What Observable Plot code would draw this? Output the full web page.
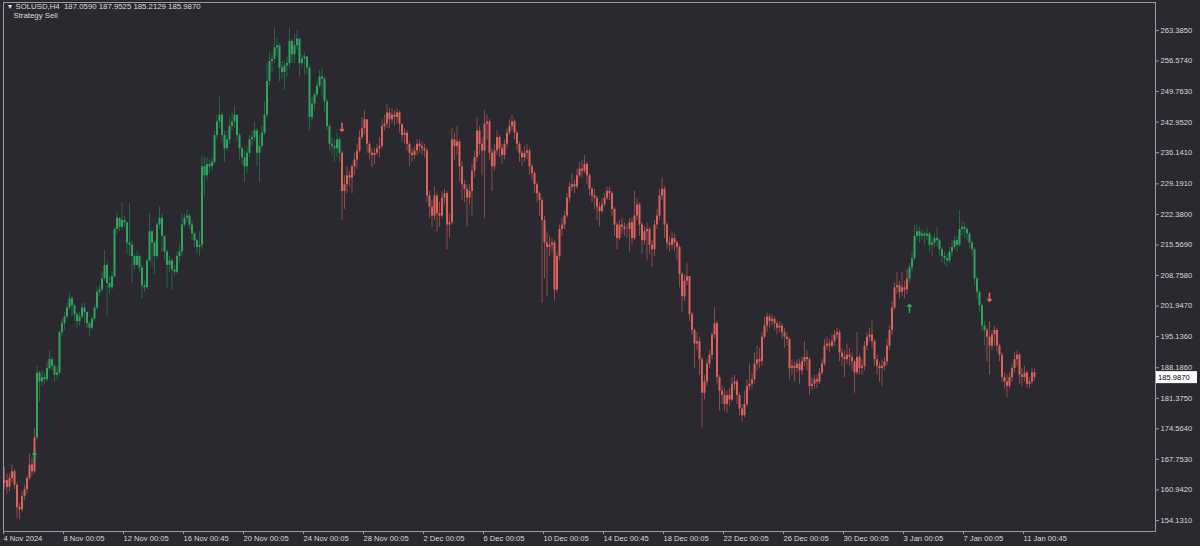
<!DOCTYPE html>
<html><head><meta charset="utf-8">
<script src="https://cdn.jsdelivr.net/npm/d3@7"></script>
<script src="https://cdn.jsdelivr.net/npm/@observablehq/plot@0.6"></script>
<style>
html,body{margin:0;padding:0;background:#29292f;}
#chart{width:1200px;height:546px;}
</style></head><body><div id="chart"></div>
<script>
// SOLUSD H4 bars, 4 Nov 2024 00:00 onward (one row = one day, 6 bars)
const firstOpen = 162.5;
const closes = [
163.0,161.5,163.5,165.0,162.0,157.0,
156.5,159.5,161.0,163.5,166.5,165.0,
172.5,187.0,185.0,186.0,185.5,188.0,
190.0,188.5,186.5,187.0,196.0,198.0,
199.5,201.5,203.5,202.0,200.0,198.5,
199.5,201.5,200.5,198.0,197.0,199.0,
201.5,205.0,205.5,208.0,211.0,207.0,
206.0,208.5,219.0,221.5,219.5,221.0,
220.5,216.0,215.5,213.0,211.0,213.0,
210.5,206.5,206.0,212.0,218.5,216.0,
213.0,220.0,221.5,217.5,214.0,211.0,
212.0,210.0,209.5,213.0,214.0,220.0,
221.5,222.0,220.0,218.0,216.5,215.0,
215.5,233.0,231.0,233.5,233.0,234.0,
240.0,243.0,244.5,240.0,237.0,239.0,
242.0,243.0,244.5,240.0,237.0,235.0,
233.0,236.0,239.0,239.5,241.0,236.0,
237.5,240.5,244.5,252.0,256.5,257.0,
259.5,260.0,255.0,254.0,255.5,256.0,
261.0,258.0,260.0,261.5,256.0,257.0,
257.5,255.0,244.0,247.0,249.0,251.0,
253.0,252.5,247.5,242.0,238.0,237.5,
237.0,239.0,236.0,227.5,229.0,231.0,
230.5,233.0,234.5,236.5,239.5,241.5,
243.5,238.0,236.0,235.5,236.0,237.0,
237.5,242.0,242.5,245.0,243.5,244.5,
244.0,245.0,242.5,240.0,240.5,238.0,
236.0,235.5,236.5,238.0,237.5,237.0,
236.5,226.5,224.0,222.0,226.5,222.5,
222.0,226.0,227.0,220.0,220.5,239.0,
237.5,238.5,233.0,229.0,228.0,226.0,
227.5,232.0,235.0,241.0,238.0,236.5,
242.5,243.0,236.0,233.0,236.5,239.5,
237.0,235.5,238.0,240.5,242.0,243.0,
240.5,238.0,236.0,235.0,236.0,236.5,
233.0,231.5,229.0,227.0,225.5,221.0,
216.0,215.0,215.5,216.0,205.5,213.0,
219.0,220.0,222.0,226.0,228.5,229.0,
228.5,231.0,232.5,232.0,233.5,231.0,
228.0,226.5,226.0,224.0,223.0,224.5,
226.0,227.5,227.0,223.5,220.0,217.0,
220.0,219.5,219.0,219.0,220.5,217.0,
222.0,224.5,220.0,216.5,218.5,219.0,
215.5,214.5,220.0,222.0,226.5,228.0,
220.0,216.0,215.5,217.0,216.0,215.0,
209.0,204.0,207.5,208.5,200.0,196.5,
193.5,194.0,190.0,182.5,185.0,189.0,
191.0,195.5,198.0,186.0,183.0,182.0,
180.0,182.0,181.0,184.5,185.0,182.0,
179.0,177.5,180.0,184.0,184.5,185.5,
189.0,190.0,189.5,195.0,197.5,199.5,
198.5,199.0,198.0,197.0,197.5,196.0,
195.0,194.5,188.0,188.5,188.0,189.0,
187.5,189.5,190.5,190.0,184.0,184.5,
185.5,185.0,187.0,189.0,193.0,193.5,
193.0,194.0,195.5,196.0,191.5,190.5,
190.0,191.0,190.5,189.5,187.0,190.5,
188.0,188.5,193.0,195.0,195.5,194.0,
190.0,188.5,188.0,188.5,189.5,193.0,
196.5,201.5,206.0,206.5,205.0,206.0,
205.5,208.0,210.5,212.5,217.5,218.5,
217.5,218.0,217.5,218.0,215.5,216.0,
217.0,216.5,214.5,213.0,212.5,212.0,
214.0,215.0,216.5,215.5,219.0,219.5,
219.0,218.0,216.0,214.5,208.0,205.0,
202.0,197.5,196.5,195.0,193.0,195.5,
196.5,193.0,191.0,186.0,185.0,184.0,
186.0,188.0,190.0,191.0,186.5,186.0,
187.0,184.5,185.0,187.059,185.987
];
const highs = [
166.0,164.5,164.5,166.5,165.5,162.5,
158.0,160.5,162.0,164.0,169.0,168.0,
174.6,188.5,187.5,187.5,187.0,189.5,
192.0,190.5,189.0,188.5,196.5,199.0,
200.5,202.5,204.7,204.0,202.5,200.5,
200.5,202.5,202.5,200.5,198.5,199.5,
202.0,206.0,206.5,209.5,214.3,211.5,
208.5,209.5,219.5,223.0,221.5,225.0,
222.0,220.5,224.8,216.5,213.5,214.0,
213.5,211.0,207.5,212.5,222.5,219.0,
216.5,220.5,224.0,222.5,217.5,214.5,
213.0,212.5,211.0,214.0,215.5,222.5,
222.5,223.5,222.5,221.0,218.5,217.0,
218.5,235.5,235.0,235.0,234.5,235.0,
241.0,244.5,248.5,245.0,241.0,241.0,
244.0,245.0,246.5,244.5,240.5,237.5,
236.5,237.5,240.0,241.0,243.0,241.5,
240.0,242.0,247.5,256.0,258.5,258.0,
264.0,261.5,260.5,256.5,256.5,257.5,
264.0,261.5,262.5,263.5,261.5,258.0,
258.5,257.5,255.5,248.5,249.5,252.0,
254.5,255.0,253.0,248.0,242.5,239.5,
239.0,240.5,239.5,236.5,231.0,233.0,
232.0,233.5,236.0,238.0,241.0,244.0,
245.5,243.5,238.5,237.0,237.0,238.0,
239.5,243.5,244.5,247.0,246.0,246.0,
245.5,246.0,245.5,242.5,241.5,241.0,
238.5,237.0,237.5,239.0,239.0,238.5,
238.0,237.0,227.5,225.5,228.5,227.0,
225.0,227.5,228.0,227.5,222.5,241.5,
240.5,242.0,239.0,234.0,230.0,229.0,
229.0,233.5,236.5,244.0,242.0,239.5,
245.5,244.5,243.5,237.0,238.0,241.0,
240.0,238.0,239.0,241.5,243.5,244.5,
243.5,241.0,238.5,236.5,237.5,238.0,
237.0,233.5,232.0,229.5,227.5,226.0,
222.0,218.5,217.5,217.0,216.5,214.0,
220.0,221.5,223.0,227.0,229.5,231.5,
230.0,232.5,234.0,234.5,235.5,234.0,
231.5,228.5,228.0,226.5,225.0,226.0,
227.0,228.5,228.5,227.5,224.0,220.5,
221.0,221.5,220.5,220.0,221.5,221.5,
227.5,226.0,225.0,220.5,219.5,220.5,
219.5,216.5,221.0,223.5,228.0,230.5,
228.5,220.5,217.5,218.5,218.0,216.5,
215.5,209.5,209.0,211.4,208.5,200.5,
197.0,196.0,195.0,190.5,186.5,190.0,
192.0,196.0,201.6,198.5,186.5,184.0,
183.5,183.0,183.5,186.0,186.5,185.5,
182.5,180.0,183.0,185.5,189.0,187.0,
191.5,193.0,192.5,196.0,199.5,200.5,
200.0,200.0,199.5,198.5,198.5,198.0,
197.0,196.0,195.0,190.0,189.5,190.0,
190.0,190.5,194.0,192.0,190.5,186.0,
186.5,186.5,188.0,190.0,194.5,195.0,
194.5,195.5,196.5,197.0,196.5,192.5,
192.0,193.5,192.5,191.5,190.0,196.0,
191.0,190.0,194.0,196.0,197.0,198.7,
194.5,191.0,189.5,190.0,190.5,194.5,
197.5,203.0,207.0,209.5,207.5,209.5,
207.5,210.0,211.5,214.0,220.0,220.0,
219.5,219.0,218.5,219.5,218.5,217.5,
218.0,219.5,217.0,215.0,214.0,213.5,
215.0,216.5,217.5,217.5,223.2,221.0,
220.5,219.5,218.5,216.5,215.0,208.5,
205.5,202.5,198.5,197.0,198.5,196.5,
197.5,197.0,193.5,191.5,187.0,186.5,
187.0,189.0,191.5,192.0,191.5,188.0,
188.5,187.5,186.0,188.0,187.9525
];
const lows = [
161.0,160.0,160.5,162.5,161.0,154.6,
154.3,156.0,158.5,160.0,163.0,164.0,
164.5,172.0,180.5,184.0,184.5,185.0,
187.5,187.5,185.0,185.5,186.5,195.0,
196.5,199.0,201.0,199.5,198.5,197.0,
197.5,199.0,198.0,197.0,195.0,196.5,
198.5,201.0,204.0,205.0,207.5,199.5,
204.5,205.5,208.0,218.0,218.5,219.0,
219.5,213.5,213.0,207.0,210.0,211.0,
209.5,203.5,205.0,205.5,211.5,210.5,
209.0,212.5,219.0,214.0,212.0,206.0,
209.5,205.5,208.5,209.0,211.5,213.0,
219.5,220.5,219.0,216.5,215.0,213.5,
213.0,214.5,226.5,230.0,231.5,232.0,
233.5,239.0,241.5,238.5,234.0,236.5,
238.0,241.0,241.5,238.5,234.5,233.5,
229.5,231.5,235.0,237.5,238.5,233.0,
229.5,237.0,240.0,244.0,251.0,254.0,
256.0,257.5,252.0,252.5,250.0,253.0,
255.0,256.0,256.0,259.0,253.0,255.0,
253.5,253.5,241.0,243.0,245.5,248.5,
250.5,248.5,245.0,241.0,236.5,235.5,
234.0,235.0,234.0,221.0,223.5,227.0,
228.5,227.0,231.0,232.5,236.0,239.0,
240.0,236.0,234.5,232.8,233.5,235.5,
235.0,237.0,241.0,241.5,241.5,242.5,
242.0,242.5,240.5,238.5,238.0,236.5,
233.0,234.0,234.5,235.5,236.0,235.5,
235.0,225.0,221.5,219.5,221.0,218.5,
219.5,221.5,224.5,214.5,217.0,220.0,
234.5,235.5,229.5,225.5,225.0,219.5,
224.5,222.0,230.5,234.0,235.5,231.0,
221.5,239.0,234.5,227.5,232.0,235.5,
235.0,233.5,234.5,237.0,240.0,241.0,
239.0,236.5,234.0,233.0,234.0,234.5,
231.0,230.0,227.0,225.0,222.0,202.5,
208.0,204.0,213.0,214.0,203.0,205.0,
212.0,217.5,219.0,221.5,225.0,227.5,
227.0,228.0,230.5,230.5,231.5,229.0,
226.5,225.0,223.5,221.0,219.5,222.5,
224.0,225.5,225.5,222.0,217.5,214.5,
216.5,218.0,217.5,217.0,214.0,215.5,
216.5,221.0,217.5,213.5,215.5,212.0,
213.5,210.5,213.0,219.0,221.0,225.5,
217.0,214.5,214.0,214.5,214.0,212.0,
206.0,200.5,203.0,206.5,198.5,195.5,
188.0,192.0,186.5,174.8,181.0,184.0,
188.0,190.0,194.5,184.5,178.5,180.0,
178.5,178.0,179.5,180.5,183.0,180.0,
177.5,176.0,177.0,179.5,183.0,183.5,
184.5,187.5,188.0,188.5,194.5,196.0,
197.0,197.5,196.5,195.5,196.0,194.5,
192.5,193.0,185.5,186.5,185.0,187.0,
184.5,186.5,188.5,187.5,182.0,183.0,
183.5,183.5,184.5,186.5,188.5,192.0,
191.5,192.5,193.0,194.5,189.5,188.5,
186.0,189.0,188.5,187.5,182.5,186.5,
186.5,186.5,187.5,192.0,194.0,192.5,
188.5,186.5,185.0,184.0,187.5,188.5,
192.0,195.5,201.0,204.5,203.5,204.0,
203.5,204.5,207.0,209.5,212.0,216.5,
216.0,216.5,215.5,216.5,214.0,213.0,
215.0,215.0,213.0,211.5,211.0,210.5,
211.5,213.0,214.5,214.0,215.0,217.5,
217.0,216.5,214.5,213.0,206.5,203.5,
200.5,196.0,193.0,189.5,186.5,192.0,
193.0,191.5,189.5,185.0,183.5,181.5,
183.5,185.0,187.0,188.5,184.5,184.0,
185.0,183.5,183.5,184.5,185.2129
];
// strategy regimes (bar index ranges drawn in green = buy side)
const buyRanges = [[13, 134], [362, 392]];
// strategy signal arrows
const signalBars = [12, 135, 362, 394];
const signalPrices = [168.4, 241.8, 201.4, 203.9];
const signalDirs = ["up", "down", "up", "down"];
// axes
const yTicks = [263.385, 256.574, 249.763, 242.952, 236.141, 229.191, 222.380, 215.569, 208.758, 201.947, 195.136, 188.186, 181.375, 174.564, 167.753, 160.942, 154.131];
const xTickBars = [0, 24, 48, 72, 96, 120, 144, 168, 192, 216, 240, 264, 288, 312, 336, 360, 384, 408];
const xTickLabels = ["4 Nov 2024", "8 Nov 00:05", "12 Nov 00:05", "16 Nov 00:45", "20 Nov 00:05", "24 Nov 00:05", "28 Nov 00:05", "2 Dec 00:05", "6 Dec 00:05", "10 Dec 00:05", "14 Dec 00:45", "18 Dec 00:05", "22 Dec 00:05", "26 Dec 00:05", "30 Dec 00:05", "3 Jan 00:05", "7 Jan 00:05", "11 Jan 00:45"];
const symbolLine = "SOLUSD,H4  187.0590 187.9525 185.2129 185.9870";
const indicatorName = "Strategy Sell";
const lastPrice = 185.987;

const isBuy = i => buyRanges.some(([a, b]) => i >= a && i <= b);
const bars = closes.map((c, i) => {
  const o = i === 0 ? firstOpen : closes[i - 1];
  return {i, open: o, close: c, high: Math.max(highs[i], o, c), low: Math.min(lows[i], o, c), buy: isBuy(i)};
});
const signals = signalBars.map((b, k) => ({bar: b, price: signalPrices[k], dir: signalDirs[k]}));

const GREEN_BODY = "#2fa560", GREEN_WICK = "#2a6447", RED_BODY = "#dd615d", RED_WICK = "#8e4b4c";
const FG = "#dcdcdc", AX = "#9c9ca0";

const chart = Plot.plot({
  width: 1200, height: 546,
  marginLeft: 3, marginRight: 45, marginTop: 2, marginBottom: 15,
  style: {background: "#29292f", color: FG, fontFamily: "'Liberation Sans', Arial, sans-serif", fontSize: "7.6px"},
  x: {domain: [-0.4, 460.4], axis: null},
  y: {domain: [151.678, 269.628], axis: null},
  marks: [
    Plot.ruleX(bars, {x: "i", y1: "low", y2: "high", stroke: d => d.buy ? GREEN_WICK : RED_WICK, strokeWidth: 1}),
    Plot.ruleX(bars, {x: "i", y1: "open", y2: "close", stroke: d => d.buy ? GREEN_BODY : RED_BODY, strokeWidth: 2}),
    Plot.vector(signals, {x: "bar", y: "price", length: 8, rotate: d => d.dir === "up" ? 0 : 180, anchor: "middle", shape: "arrow",
      stroke: d => d.dir === "up" ? GREEN_BODY : RED_BODY, strokeWidth: 1.6}),
    Plot.frame({stroke: AX}),
    Plot.axisX({ticks: xTickBars, tickFormat: d => xTickLabels[Math.round(d / 24)], tickSize: 3, tickPadding: 1,
      textAnchor: "start", dx: -1, stroke: AX, fill: FG}),
    Plot.axisY({anchor: "right", ticks: yTicks, tickFormat: d => d.toFixed(4), tickSize: 3, tickPadding: 2, stroke: AX, fill: FG}),
    Plot.text(["▼"], {text: d => d, frameAnchor: "top-left", dx: 3, dy: 2, lineAnchor: "top", textAnchor: "start", fill: FG, fontSize: 7}),
    Plot.text([symbolLine], {text: d => d, frameAnchor: "top-left", dx: 12, dy: 1, lineAnchor: "top", textAnchor: "start", fill: FG, fontSize: 7.8}),
    Plot.text([indicatorName], {text: d => d, frameAnchor: "top-left", dx: 10, dy: 10, lineAnchor: "top", textAnchor: "start", fill: FG, fontSize: 7.8})
  ]
});
document.getElementById("chart").appendChild(chart);

// current price tag on the price scale
const yPix = chart.scale("y").apply(lastPrice);
const svg = d3.select(chart);
const g = svg.append("g");
g.append("rect").attr("x", 1156).attr("y", yPix - 6).attr("width", 41).attr("height", 12).attr("fill", "#ffffff");
g.append("text").attr("x", 1158).attr("y", yPix + 3).attr("fill", "#000000").attr("text-anchor", "start")
  .attr("font-family", "'Liberation Sans', Arial, sans-serif").attr("font-size", "7.6px").text(lastPrice.toFixed(4));
</script>
</body></html>
